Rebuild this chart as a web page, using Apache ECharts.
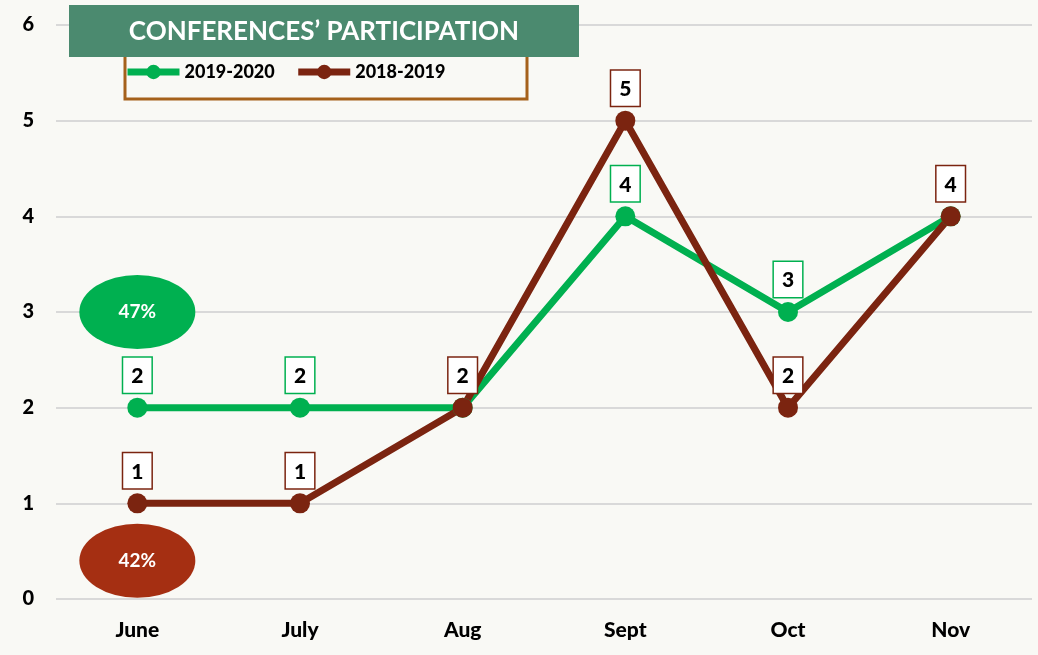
<!DOCTYPE html>
<html>
<head>
<meta charset="utf-8">
<script src="https://cdn.jsdelivr.net/npm/echarts@6/dist/echarts.min.js"></script>
<style>
  html, body { margin: 0; padding: 0; background: #f9f9f5; }
  #chart { width: 1038px; height: 655px; }
</style>
</head>
<body>
<div id="chart"></div>
<script>
// months on the x axis
var months = ['June', 'July', 'Aug', 'Sept', 'Oct', 'Nov']
// conferences per month
var data2019 = [2, 2, 2, 4, 3, 4]
var data2018 = [1, 1, 2, 5, 2, 4]
// labels hidden behind the other series
var hidden2019 = [2, 5]
var hidden2018 = []
// share bubbles (value, position on y)
var shareNames = ['2019-2020', '2018-2019']
var shareText = ['47%', '42%']
var shareY = [3, 0.4]

var green = '#00b050'
var brown = '#7b2410'
var font = 'Lato, "DejaVu Sans", sans-serif'

function items(values, hidden) {
  return values.map(function (v, i) {
    return hidden.indexOf(i) >= 0 ? { value: v, label: { show: false } } : v
  })
}

function lineSeries(name, values, hidden, color) {
  return {
    name: name,
    type: 'line',
    data: items(values, hidden),
    symbol: 'circle',
    symbolSize: 20,
    itemStyle: { color: color },
    lineStyle: { color: color, width: 7 },
    label: {
      show: true,
      position: 'top',
      distance: 5,
      color: '#000',
      fontFamily: font,
      fontWeight: 900,
      fontSize: 21,
      backgroundColor: '#fff',
      borderColor: color,
      borderWidth: 1.5,
      padding: [8, 8, 6, 8]
    },
    animation: false
  }
}

var chart = echarts.init(document.getElementById('chart'))
chart.setOption({
  backgroundColor: '#f9f9f5',
  grid: { left: 56, right: 6, top: 25, bottom: 56 },
  xAxis: {
    type: 'category',
    data: months,
    axisLine: { show: false },
    axisTick: { show: false },
    axisLabel: { color: '#000', fontFamily: font, fontWeight: 900, fontSize: 21, margin: 21 }
  },
  yAxis: {
    type: 'value',
    min: 0,
    max: 6,
    interval: 1,
    axisLine: { show: false },
    axisTick: { show: false },
    axisLabel: { color: '#000', fontFamily: font, fontWeight: 900, fontSize: 20, margin: 22 },
    splitLine: { lineStyle: { color: '#d9d9d9', width: 2 } }
  },
  legend: {
    data: ['2019-2020', '2018-2019'],
    left: 119,
    top: 58,
    itemWidth: 52,
    itemHeight: 18,
    itemGap: 20,
    lineStyle: { width: 7 },
    textStyle: { color: '#000', fontFamily: font, fontWeight: 900, fontSize: 18 }
  },
  graphic: [
    {
      type: 'rect',
      z: 100,
      shape: { x: 125, y: 40, width: 402, height: 59 },
      style: { fill: 'transparent', stroke: '#a5611b', lineWidth: 3 }
    },
    {
      type: 'rect',
      z: 101,
      shape: { x: 69, y: 5, width: 510, height: 52 },
      style: { fill: '#4b8a6f' }
    },
    {
      type: 'text',
      z: 102,
      x: 324,
      y: 32,
      style: {
        text: 'CONFERENCES\u2019 PARTICIPATION',
        fill: '#fff',
        font: 'bold 26px ' + font,
        textAlign: 'center',
        textVerticalAlign: 'middle'
      }
    }
  ],
  series: [
    lineSeries('2019-2020', data2019, hidden2019, green),
    lineSeries('2018-2019', data2018, hidden2018, brown),
    {
      type: 'scatter',
      symbol: 'circle',
      symbolSize: [116, 74],
      data: shareY.map(function (y, i) {
        return {
          name: shareNames[i],
          value: [months[0], y],
          itemStyle: { color: i === 0 ? '#00b050' : '#a52f12', opacity: 1 },
          label: { formatter: shareText[i] }
        }
      }),
      label: {
        show: true,
        position: 'inside',
        color: '#fff',
        fontFamily: font,
        fontWeight: 'bold',
        fontSize: 19
      },
      z: 5,
      animation: false
    }
  ]
})
</script>
</body>
</html>
